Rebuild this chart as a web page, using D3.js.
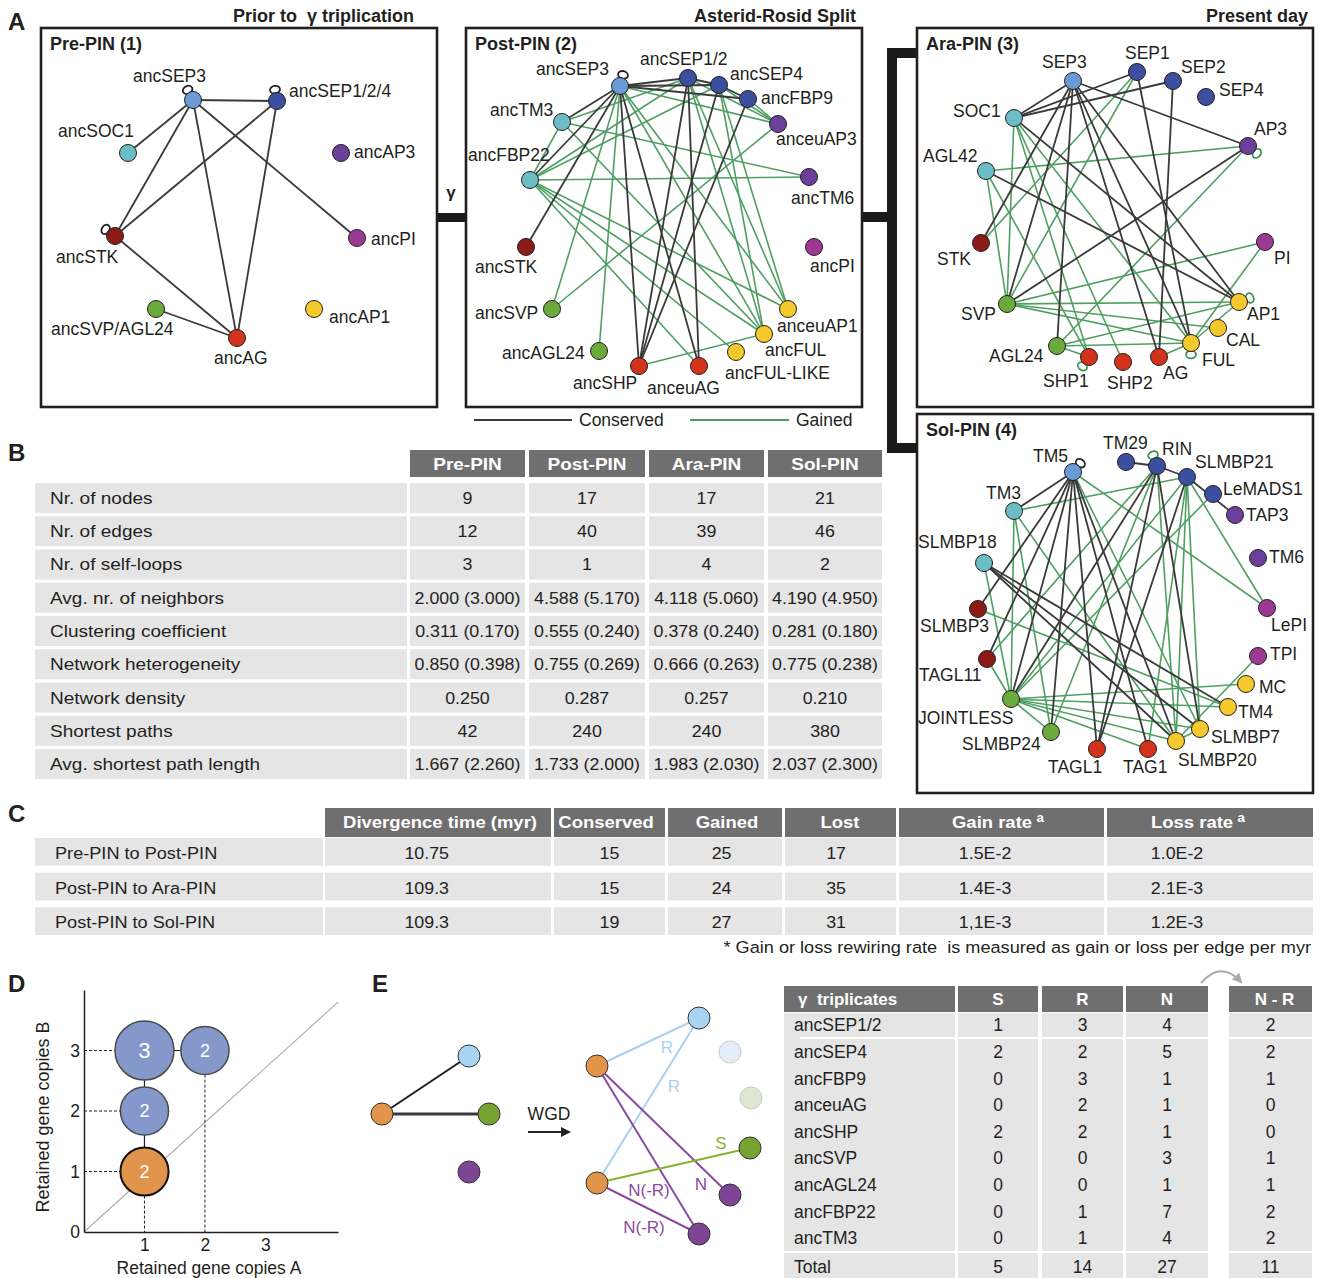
<!DOCTYPE html>
<html>
<head>
<meta charset="utf-8">
<script src="https://cdn.jsdelivr.net/npm/d3@7"></script>
<style>
  body { margin: 0; background: #fff; }
  svg { display: block; font-family: "Liberation Sans", Arial, Helvetica, sans-serif; }
</style>
</head>
<body>
<svg id="fig" width="1323" height="1278"></svg>
<script>
// ===================== DATA =====================

// --- Panel A: protein interaction networks (name, gene family) ---
const prePinNodes = [
  ['ancSEP3','sep3'], ['ancSEP1/2/4','sep'], ['ancSOC1','soc'], ['ancAP3','ap3'],
  ['ancSTK','stk'], ['ancPI','pi'], ['ancSVP/AGL24','svp'], ['ancAP1','ap1'], ['ancAG','ag']
];
const prePinEdges = [
  ['ancSEP3','ancSEP1/2/4','c'], ['ancSEP3','ancSOC1','c'], ['ancSEP3','ancSTK','c'],
  ['ancSEP3','ancAG','c'], ['ancSEP3','ancPI','c'], ['ancSEP1/2/4','ancSTK','c'],
  ['ancSEP1/2/4','ancAG','c'], ['ancSTK','ancAG','c'], ['ancSVP/AGL24','ancAG','c']
];
const prePinLoops = [['ancSEP3','c'], ['ancSEP1/2/4','c'], ['ancSTK','c']];

const postPinNodes = [
  ['ancSEP3','sep3'], ['ancSEP1/2','sep'], ['ancSEP4','sep'], ['ancFBP9','sep'],
  ['anceuAP3','ap3'], ['ancTM3','soc'], ['ancFBP22','soc'], ['ancTM6','ap3'],
  ['ancSTK','stk'], ['ancPI','pi'], ['ancSVP','svp'], ['anceuAP1','ap1'],
  ['ancFUL','ap1'], ['ancAGL24','svp'], ['ancFUL-LIKE','ap1'], ['ancSHP','ag'], ['anceuAG','ag']
];
const postPinEdges = [
  // conserved
  ['ancSEP3','ancSEP1/2','c'], ['ancSEP3','ancSEP4','c'], ['ancSEP3','ancFBP9','c'],
  ['ancSEP1/2','ancSEP4','c'], ['ancSEP4','ancFBP9','c'], ['ancSEP3','ancTM3','c'],
  ['ancSEP3','ancFBP22','c'], ['ancSEP3','ancSTK','c'], ['ancSEP3','ancSHP','c'],
  ['ancSEP3','anceuAG','c'], ['ancSEP1/2','ancSHP','c'], ['ancSEP1/2','anceuAG','c'],
  ['ancSEP4','ancSHP','c'], ['ancFBP9','ancSHP','c'],
  // gained
  ['ancSEP3','anceuAP3','g'], ['ancSEP3','ancSVP','g'], ['ancSEP3','ancAGL24','g'],
  ['ancSEP3','ancFUL','g'], ['ancSEP3','anceuAP1','g'], ['ancSEP1/2','ancTM3','g'],
  ['ancSEP1/2','ancFBP22','g'], ['ancSEP1/2','anceuAP3','g'], ['ancSEP1/2','ancFUL','g'],
  ['ancSEP1/2','anceuAP1','g'], ['ancSEP4','ancFBP22','g'], ['ancSEP4','anceuAP3','g'],
  ['ancSEP4','ancFUL','g'], ['ancSEP4','anceuAP1','g'], ['ancFBP9','anceuAP3','g'],
  ['ancTM3','ancTM6','g'], ['ancTM3','ancFUL','g'], ['ancFBP22','anceuAP1','g'],
  ['ancFBP22','ancFUL','g'], ['ancFBP22','ancFUL-LIKE','g'], ['ancFBP22','anceuAG','g'],
  ['anceuAP3','ancSVP','g'], ['ancSHP','ancFUL','g'], ['ancFBP22','ancTM3','g'],
  ['ancFBP22','ancTM6','g']
];
const postPinLoops = [['ancSEP3','c']];

const araPinNodes = [
  ['SEP3','sep3'], ['SEP1','sep'], ['SEP2','sep'], ['SEP4','sep'], ['SOC1','soc'],
  ['AP3','ap3'], ['AGL42','soc'], ['STK','stk'], ['PI','pi'], ['SVP','svp'],
  ['AP1','ap1'], ['CAL','ap1'], ['FUL','ap1'], ['AGL24','svp'], ['SHP1','ag'],
  ['SHP2','ag'], ['AG','ag']
];
const araPinEdges = [
  ['SEP3','SOC1','c'], ['SEP3','AP3','c'], ['SEP3','STK','c'], ['SEP3','SVP','c'],
  ['SEP3','AGL24','c'], ['SEP3','AG','c'], ['SEP3','FUL','c'], ['SEP3','AP1','c'],
  ['SEP1','SOC1','c'], ['SEP2','SOC1','c'], ['SEP1','FUL','c'], ['SEP2','AG','c'],
  ['SOC1','AP1','c'], ['AGL42','AP1','c'], ['SVP','AP3','c'],
  ['SEP1','SVP','g'], ['SEP1','STK','g'], ['AP3','AGL42','g'], ['AP3','AGL24','g'],
  ['SOC1','SVP','g'], ['SOC1','SHP1','g'], ['SOC1','SHP2','g'], ['SOC1','FUL','g'],
  ['AGL42','SVP','g'], ['AGL42','SHP1','g'], ['SVP','PI','g'], ['SVP','AP1','g'],
  ['SVP','FUL','g'], ['AGL24','AP1','g'], ['AGL24','FUL','g'], ['PI','FUL','g'],
  ['AGL24','SHP1','g'], ['AG','FUL','g'], ['FUL','AP1','g'], ['SVP','CAL','g']
];
const araPinLoops = [['AP3','g'], ['AP1','g'], ['FUL','g'], ['SHP1','g']];

const solPinNodes = [
  ['TM5','sep3'], ['TM29','sep'], ['RIN','sep'], ['SLMBP21','sep'], ['LeMADS1','sep'],
  ['TAP3','ap3'], ['TM3','soc'], ['TM6','ap3'], ['SLMBP18','soc'], ['SLMBP3','stk'],
  ['LePI','pi'], ['TAGL11','stk'], ['TPI','pi'], ['MC','ap1'], ['JOINTLESS','svp'],
  ['TM4','ap1'], ['SLMBP7','ap1'], ['SLMBP24','svp'], ['SLMBP20','ap1'], ['TAGL1','ag'], ['TAG1','ag']
];
const solPinEdges = [
  ['TM5','TM3','c'], ['TM5','SLMBP3','c'], ['TM5','TAGL11','c'], ['TM5','JOINTLESS','c'],
  ['TM5','SLMBP24','c'], ['TM5','TAGL1','c'], ['TM5','TAG1','c'], ['TM5','SLMBP20','c'],
  ['TM29','RIN','c'], ['RIN','SLMBP21','c'], ['SLMBP21','TAP3','c'], ['RIN','TAGL1','c'],
  ['RIN','SLMBP7','c'], ['RIN','JOINTLESS','c'], ['SLMBP21','TAGL1','c'],
  ['SLMBP18','TM4','c'], ['SLMBP18','SLMBP7','c'], ['SLMBP18','SLMBP20','c'],
  ['TM5','LePI','g'], ['TM5','SLMBP7','g'], ['TM3','SLMBP21','g'], ['TM3','JOINTLESS','g'],
  ['TM3','SLMBP24','g'], ['TM3','SLMBP20','g'], ['SLMBP18','JOINTLESS','g'], ['SLMBP3','TM4','g'],
  ['TAGL11','JOINTLESS','g'], ['RIN','TAGL11','g'], ['RIN','SLMBP24','g'], ['SLMBP21','JOINTLESS','g'],
  ['LeMADS1','JOINTLESS','g'], ['SLMBP21','LePI','g'], ['SLMBP21','SLMBP20','g'], ['RIN','SLMBP20','g'],
  ['JOINTLESS','MC','g'], ['JOINTLESS','TM4','g'], ['JOINTLESS','SLMBP7','g'], ['JOINTLESS','SLMBP20','g'],
  ['JOINTLESS','TAG1','g'], ['JOINTLESS','SLMBP24','g'], ['TPI','SLMBP20','g'], ['SLMBP7','SLMBP20','g'],
  ['SLMBP21','SLMBP7','g'], ['SLMBP21','TAG1','g']
];
const solPinLoops = [['TM5','c'], ['RIN','g']];

// --- Panel B: network statistics ---
const pinNames = ['Pre-PIN', 'Post-PIN', 'Ara-PIN', 'Sol-PIN'];
const statLabels = ['Nr. of nodes', 'Nr. of edges', 'Nr. of self-loops', 'Avg. nr. of neighbors',
  'Clustering coefficient', 'Network heterogeneity', 'Network density', 'Shortest paths',
  'Avg. shortest path length'];
const preStats  = ['9', '12', '3', '2.000 (3.000)', '0.311 (0.170)', '0.850 (0.398)', '0.250', '42', '1.667 (2.260)'];
const postStats = ['17', '40', '1', '4.588 (5.170)', '0.555 (0.240)', '0.755 (0.269)', '0.287', '240', '1.733 (2.000)'];
const araStats  = ['17', '39', '4', '4.118 (5.060)', '0.378 (0.240)', '0.666 (0.263)', '0.257', '240', '1.983 (2.030)'];
const solStats  = ['21', '46', '2', '4.190 (4.950)', '0.281 (0.180)', '0.775 (0.238)', '0.210', '380', '2.037 (2.300)'];

// --- Panel C: rewiring between networks ---
const rewiringHeaders = ['Divergence time (myr)', 'Conserved', 'Gained', 'Lost', 'Gain rate', 'Loss rate'];
const transitions = ['Pre-PIN to Post-PIN', 'Post-PIN to Ara-PIN', 'Post-PIN to Sol-PIN'];
const divergenceTime = ['10.75', '109.3', '109.3'];
const conservedEdges = [15, 15, 19];
const gainedEdges = [25, 24, 27];
const lostEdges = [17, 35, 31];
const gainRate = ['1.5E-2', '1.4E-3', '1,1E-3'];
const lossRate = ['1.0E-2', '2.1E-3', '1.2E-3'];

// --- Panel D: retained gene copies ---
const copyPoints = [
  { a: 1, b: 3, n: 3, anc: false },
  { a: 2, b: 3, n: 2, anc: false },
  { a: 1, b: 2, n: 2, anc: false },
  { a: 1, b: 1, n: 2, anc: true }
];
const copyTicksB = [0, 1, 2, 3];
const copyTicksA = [1, 2, 3];

// --- Panel E: interaction classes of gamma triplicates ---
const triplicateGenes = ['ancSEP1/2', 'ancSEP4', 'ancFBP9', 'anceuAG', 'ancSHP', 'ancSVP', 'ancAGL24', 'ancFBP22', 'ancTM3'];
const countS = [1, 2, 0, 0, 2, 0, 0, 0, 0];
const countR = [3, 2, 3, 2, 2, 0, 0, 1, 1];
const countN = [4, 5, 1, 1, 1, 3, 1, 7, 4];
const countNminusR = [2, 2, 1, 0, 0, 1, 1, 2, 2];

const wgdBeforeNodes = [['o', 'anc'], ['b', 'blue'], ['g', 'green'], ['p', 'purple']];
const wgdBeforeEdges = [['o', 'b', 2], ['o', 'g', 3]];
const wgdAfterNodes = [['o1', 'anc'], ['o2', 'anc'], ['b1', 'blue'], ['b2', 'fadedBlue'],
  ['g2', 'fadedGreen'], ['g1', 'green'], ['p1', 'purple'], ['p2', 'purple']];
const wgdAfterEdges = [['o1', 'b1', 'R'], ['o2', 'b1', 'R'], ['o1', 'p1', 'N'],
  ['o1', 'p2', 'N(-R)'], ['o2', 'p2', 'N(-R)'], ['o2', 'g1', 'S']];

// ===================== LAYOUT & STYLE =====================
const INK = '#231f20';
const famColor = {
  sep3: '#6a9bd6', sep: '#3c4e9f', soc: '#6dbdc6', stk: '#8b1b17', ag: '#d3321b',
  svp: '#6bab3e', ap1: '#f4c92d', ap3: '#6c3f9b', pi: '#9c3a93'
};
const edgeColor = { c: '#3a3a3a', g: '#4f9f62' };
const BOX_W = 396, BOX_H = 379, NODE_R = 8.5;

// node layout within a 396x379 panel: [x, y, label x, label baseline, loop angle]
const preLayout = {
  'ancSEP3': [152, 72, 92, 54, -118], 'ancSEP1/2/4': [236, 73, 248, 69, -100],
  'ancSOC1': [87, 125, 17, 109], 'ancAP3': [300, 125, 313, 130],
  'ancSTK': [74, 208, 15, 235, -145], 'ancPI': [316, 210, 330, 217],
  'ancSVP/AGL24': [115, 281, 10, 307], 'ancAP1': [273, 281, 288, 295],
  'ancAG': [196, 310, 173, 336]
};
const postLayout = {
  'ancSEP3': [154, 58, 70, 47, -75], 'ancSEP1/2': [222, 50, 174, 37], 'ancSEP4': [253, 57, 264, 52],
  'ancFBP9': [282, 71, 295, 76], 'anceuAP3': [312, 96, 310, 117], 'ancTM3': [96, 94, 24, 88],
  'ancFBP22': [64, 152, 2, 133], 'ancTM6': [343, 149, 325, 176], 'ancSTK': [60, 219, 9, 245],
  'ancPI': [348, 219, 344, 244], 'ancSVP': [86, 281, 9, 291], 'anceuAP1': [322, 281, 311, 304],
  'ancFUL': [298, 306, 299, 328], 'ancAGL24': [133, 323, 36, 331], 'ancFUL-LIKE': [270, 324, 259, 351],
  'ancSHP': [173, 338, 107, 361], 'anceuAG': [233, 338, 181, 366]
};
const araLayout = {
  'SEP3': [156, 53, 125, 40], 'SEP1': [220, 44, 208, 31], 'SEP2': [256, 53, 264, 45],
  'SEP4': [289, 69, 302, 68], 'SOC1': [97, 90, 36, 89], 'AP3': [331, 118, 337, 107, 40],
  'AGL42': [69, 143, 6, 134], 'STK': [64, 215, 20, 237], 'PI': [348, 214, 357, 236],
  'SVP': [90, 276, 44, 292], 'AP1': [322, 274, 330, 292, -20], 'CAL': [301, 300, 309, 318],
  'FUL': [274, 315, 285, 338, 90], 'AGL24': [140, 318, 72, 334], 'SHP1': [172, 329, 126, 359, 125],
  'SHP2': [206, 334, 190, 361], 'AG': [242, 329, 246, 351]
};
const solLayout = {
  'TM5': [156, 58, 116, 48, -50], 'TM29': [209, 48, 186, 35], 'RIN': [240, 52, 245, 41, -110],
  'SLMBP21': [270, 63, 278, 54], 'LeMADS1': [296, 80, 306, 81], 'TAP3': [318, 101, 329, 107],
  'TM3': [97, 97, 69, 85], 'TM6': [341, 144, 352, 149], 'SLMBP18': [67, 149, 1, 134],
  'SLMBP3': [61, 195, 3, 218], 'LePI': [350, 194, 354, 217], 'TAGL11': [70, 245, 2, 267],
  'TPI': [341, 242, 353, 246], 'MC': [329, 270, 342, 279], 'JOINTLESS': [94, 285, 1, 310],
  'TM4': [311, 293, 321, 304], 'SLMBP7': [283, 315, 294, 329], 'SLMBP24': [134, 318, 45, 336],
  'SLMBP20': [259, 327, 261, 352], 'TAGL1': [180, 335, 131, 359], 'TAG1': [231, 335, 206, 359]
};

const networks = [
  { title: 'Pre-PIN (1)', origin: [41, 28], nodes: prePinNodes, edges: prePinEdges, loops: prePinLoops, layout: preLayout },
  { title: 'Post-PIN (2)', origin: [466, 28], nodes: postPinNodes, edges: postPinEdges, loops: postPinLoops, layout: postLayout },
  { title: 'Ara-PIN (3)', origin: [917, 28], nodes: araPinNodes, edges: araPinEdges, loops: araPinLoops, layout: araLayout },
  { title: 'Sol-PIN (4)', origin: [917, 414], nodes: solPinNodes, edges: solPinEdges, loops: solPinLoops, layout: solLayout }
];

const svg = d3.select('#fig');
const defs = svg.append('defs');
function addMarker(id, color) {
  defs.append('marker').attr('id', id).attr('viewBox', '0 0 10 10')
    .attr('refX', 8).attr('refY', 5).attr('markerWidth', 5).attr('markerHeight', 5)
    .attr('orient', 'auto')
    .append('path').attr('d', 'M0,0L10,5L0,10Z').attr('fill', color);
}
addMarker('headInk', '#222');
addMarker('headGray', '#aaa');

// text helper: horizontally stretched text used in the statistics tables
function stext(g, x, y, str, o) {
  return g.append('text')
    .attr('transform', `translate(${x},${y}) scale(${o.sx || 1},1)`)
    .attr('text-anchor', o.anchor || 'start')
    .attr('font-size', o.size || 17)
    .attr('font-weight', o.weight || 'normal')
    .attr('fill', o.fill || INK)
    .text(str);
}
function panelLetter(x, y, ch) {
  svg.append('text').attr('x', x).attr('y', y).attr('font-size', 24).attr('font-weight', 'bold')
    .attr('fill', INK).text(ch);
}

// ===================== PANEL A =====================
panelLetter(8, 30, 'A');
[['Prior to\u00a0\u00a0\u03b3 triplication', 414], ['Asterid-Rosid Split', 856], ['Present day', 1308]].forEach(([t, x]) => {
  svg.append('text').attr('x', x).attr('y', 22).attr('text-anchor', 'end')
    .attr('font-size', 18).attr('font-weight', 'bold').attr('fill', INK).text(t);
});
svg.append('text').attr('x', 451).attr('y', 198).attr('text-anchor', 'middle')
  .attr('font-size', 17).attr('font-weight', 'bold').attr('fill', INK).text('\u03b3');

// lineage connectors between the networks
const bars = svg.append('g').attr('fill', '#1a1a1a');
[[437, 213, 29, 9], [862, 212, 30, 10], [887, 48, 10, 405], [887, 48, 30, 10], [887, 443, 30, 10]]
  .forEach(([x, y, w, h]) => bars.append('rect').attr('x', x).attr('y', y).attr('width', w).attr('height', h));

networks.forEach(net => {
  const sx = d3.scaleLinear().domain([0, BOX_W]).range([net.origin[0], net.origin[0] + BOX_W]);
  const sy = d3.scaleLinear().domain([0, BOX_H]).range([net.origin[1], net.origin[1] + BOX_H]);
  const g = svg.append('g');
  g.append('rect').attr('x', sx(0)).attr('y', sy(0)).attr('width', BOX_W).attr('height', BOX_H)
    .attr('fill', '#fff').attr('stroke', INK).attr('stroke-width', 2.6);
  g.append('text').attr('x', sx(9)).attr('y', sy(22)).attr('font-size', 18).attr('font-weight', 'bold')
    .attr('fill', INK).text(net.title);

  const pos = name => net.layout[name];
  const edgesSorted = net.edges.slice().sort((a, b) => (a[2] === 'g' ? -1 : 1) - (b[2] === 'g' ? -1 : 1));
  g.append('g').selectAll('line').data(edgesSorted).join('line')
    .attr('x1', d => sx(pos(d[0])[0])).attr('y1', d => sy(pos(d[0])[1]))
    .attr('x2', d => sx(pos(d[1])[0])).attr('y2', d => sy(pos(d[1])[1]))
    .attr('stroke', d => edgeColor[d[2]]).attr('stroke-width', d => d[2] === 'g' ? 1.6 : 1.8);

  // self-interactions
  g.append('g').selectAll('ellipse').data(net.loops).join('ellipse')
    .attr('transform', d => {
      const p = pos(d[0]), ang = p[4] * Math.PI / 180, dist = NODE_R + 3;
      return `translate(${sx(p[0]) + dist * Math.cos(ang)},${sy(p[1]) + dist * Math.sin(ang)}) rotate(${p[4] + 90})`;
    })
    .attr('rx', 5).attr('ry', 3.8).attr('fill', 'none')
    .attr('stroke', d => d[1] === 'g' ? '#3f9455' : '#222').attr('stroke-width', 1.8);

  g.append('g').selectAll('circle').data(net.nodes).join('circle')
    .attr('cx', d => sx(pos(d[0])[0])).attr('cy', d => sy(pos(d[0])[1])).attr('r', NODE_R)
    .attr('fill', d => famColor[d[1]]).attr('stroke', INK).attr('stroke-width', 1);

  g.append('g').selectAll('text').data(net.nodes).join('text')
    .attr('x', d => sx(pos(d[0])[2])).attr('y', d => sy(pos(d[0])[3]))
    .attr('font-size', 17.5).attr('fill', INK).text(d => d[0]);
});

// edge legend below the Post-PIN network
const legend = svg.append('g');
[['Conserved', 'c', 474, 572, 579], ['Gained', 'g', 690, 789, 796]].forEach(([t, k, x1, x2, tx]) => {
  legend.append('line').attr('x1', x1).attr('x2', x2).attr('y1', 420).attr('y2', 420)
    .attr('stroke', edgeColor[k]).attr('stroke-width', 2);
  legend.append('text').attr('x', tx).attr('y', 426).attr('font-size', 17.5).attr('fill', INK).text(t);
});

// ===================== PANEL B =====================
panelLetter(8, 461, 'B');
const TABLE_HEAD = '#6f6f70', TABLE_BODY = '#e6e5e6';
const bStats = [preStats, postStats, araStats, solStats];
const bCols = [[410, 525], [529, 645], [649, 764], [768, 882]];
const bLabelCol = [35, 407];
const bRows = d3.scaleBand().domain(statLabels).range([483, 779]).paddingInner(0.098);
const gB = svg.append('g');
bCols.forEach(([x0, x1], i) => {
  gB.append('rect').attr('x', x0).attr('y', 450).attr('width', x1 - x0).attr('height', 27).attr('fill', TABLE_HEAD);
  stext(gB, (x0 + x1) / 2, 470, pinNames[i], { anchor: 'middle', size: 16.5, weight: 'bold', fill: '#fff', sx: 1.15 });
});
statLabels.forEach((lab, r) => {
  const y = bRows(lab), h = bRows.bandwidth();
  gB.append('rect').attr('x', bLabelCol[0]).attr('y', y).attr('width', bLabelCol[1] - bLabelCol[0]).attr('height', h).attr('fill', TABLE_BODY);
  stext(gB, 50, y + h / 2 + 6, lab, { size: 17, sx: 1.12 });
  bCols.forEach(([x0, x1], i) => {
    gB.append('rect').attr('x', x0).attr('y', y).attr('width', x1 - x0).attr('height', h).attr('fill', TABLE_BODY);
    stext(gB, (x0 + x1) / 2, y + h / 2 + 6, bStats[i][r], { anchor: 'middle', size: 16.5, sx: 1.08 });
  });
});

// ===================== PANEL C =====================
panelLetter(8, 822, 'C');
const cCols = [[325, 551], [554, 665], [668, 782], [785, 896], [899, 1104], [1107, 1313]];
const cValueFrac = [0.45, 0.5, 0.47, 0.46, 0.42, 0.34];
const cHeadX = [440, 606, 727, 840, 998, 1198];
const cValues = [divergenceTime, conservedEdges, gainedEdges, lostEdges, gainRate, lossRate];
const cRows = d3.scaleBand().domain(transitions).range([838, 935]).paddingInner(0.2);
const gC = svg.append('g');
cCols.forEach(([x0, x1], i) => {
  gC.append('rect').attr('x', x0).attr('y', 808).attr('width', x1 - x0).attr('height', 29).attr('fill', TABLE_HEAD);
  const t = stext(gC, cHeadX[i], 828, rewiringHeaders[i], { anchor: 'middle', size: 16.5, weight: 'bold', fill: '#fff', sx: 1.12 });
  if (i >= 4) t.append('tspan').attr('dy', -6).attr('dx', 4).attr('font-size', 12).text('a');
});
transitions.forEach((lab, r) => {
  const y = cRows(lab), h = cRows.bandwidth();
  gC.append('rect').attr('x', 35).attr('y', y).attr('width', 288).attr('height', h).attr('fill', TABLE_BODY);
  stext(gC, 55, y + h / 2 + 7, lab, { size: 16.5, sx: 1.1 });
  cCols.forEach(([x0, x1], i) => {
    gC.append('rect').attr('x', x0).attr('y', y).attr('width', x1 - x0).attr('height', h).attr('fill', TABLE_BODY);
    stext(gC, x0 + (x1 - x0) * cValueFrac[i], y + h / 2 + 7, String(cValues[i][r]), { anchor: 'middle', size: 16.5, sx: 1.08 });
  });
});
stext(gC, 1311, 953, '* Gain or loss rewiring rate \u00a0is measured as gain or loss per edge per myr', { anchor: 'end', size: 16.5, sx: 1.1 });

// ===================== PANEL D =====================
panelLetter(8, 992, 'D');
const dX = d3.scaleLinear().domain([0, 4.2]).range([84, 338]);
const dY = d3.scaleLinear().domain([0, 4]).range([1232, 990]);
const dR = d3.scaleSqrt().domain([0, 3]).range([0, 29.5]);
const gD = svg.append('g');

gD.append('line').attr('x1', dX(0)).attr('y1', dY(0)).attr('x2', dX(4.2)).attr('y2', dY(3.8))
  .attr('stroke', '#aaa').attr('stroke-width', 1.1);

// dashed guides to the axes
copyPoints.filter(p => p.a === 1).forEach(p => {
  gD.append('line').attr('x1', dX(0)).attr('x2', dX(p.a) - dR(p.n)).attr('y1', dY(p.b)).attr('y2', dY(p.b))
    .attr('stroke', INK).attr('stroke-width', 1).attr('stroke-dasharray', '3,2');
});
d3.groups(copyPoints, p => p.a).forEach(([a, pts]) => {
  const low = d3.least(pts, p => p.b);
  gD.append('line').attr('x1', dX(a)).attr('x2', dX(a)).attr('y1', dY(low.b) + dR(low.n)).attr('y2', dY(0))
    .attr('stroke', INK).attr('stroke-width', 1).attr('stroke-dasharray', '3,2');
});
// links between neighbouring copy-number states
const byKey = new Map(copyPoints.map(p => [p.a + ',' + p.b, p]));
copyPoints.forEach(p => {
  [[p.a, p.b + 1], [p.a + 1, p.b]].forEach(([a, b]) => {
    if (byKey.has(a + ',' + b)) {
      gD.append('line').attr('x1', dX(p.a)).attr('y1', dY(p.b)).attr('x2', dX(a)).attr('y2', dY(b))
        .attr('stroke', INK).attr('stroke-width', 1.2);
    }
  });
});

const axisStyle = g => {
  g.select('.domain').attr('stroke', INK).attr('stroke-width', 1.5);
  g.selectAll('text').attr('font-size', 17.5).attr('fill', INK).attr('font-family', '"Liberation Sans", Arial, sans-serif');
};
gD.append('g').attr('transform', `translate(${dX(0)},0)`)
  .call(d3.axisLeft(dY).tickValues(copyTicksB).tickSize(0).tickSizeOuter(0).tickPadding(4).tickFormat(d3.format('d')))
  .call(axisStyle);
gD.append('g').attr('transform', `translate(0,${dY(0)})`)
  .call(d3.axisBottom(dX).tickValues(copyTicksA).tickSize(0).tickSizeOuter(0).tickPadding(7).tickFormat(d3.format('d')))
  .call(axisStyle);

const dots = gD.append('g').selectAll('g').data(copyPoints).join('g')
  .attr('transform', d => `translate(${dX(d.a)},${dY(d.b)})`);
dots.append('circle').attr('r', d => dR(d.n))
  .attr('fill', d => d.anc ? '#df934b' : '#8498cb')
  .attr('stroke', d => d.anc ? '#111' : '#4a4a4a').attr('stroke-width', d => d.anc ? 2 : 1.5);
dots.append('text').attr('text-anchor', 'middle').attr('dy', d => dR(d.n) * 0.25)
  .attr('font-size', d => dR(d.n) * 0.75).attr('fill', '#fff').text(d => d.n);

gD.append('text').attr('transform', 'translate(49,1117) rotate(-90)').attr('text-anchor', 'middle')
  .attr('font-size', 18).attr('fill', INK).text('Retained gene copies B');
gD.append('text').attr('x', 209).attr('y', 1274).attr('text-anchor', 'middle')
  .attr('font-size', 17.5).attr('fill', INK).text('Retained gene copies A');

// ===================== PANEL E =====================
panelLetter(372, 992, 'E');
const wgdColor = {
  anc: ['#e0954b', '#333'], blue: ['#a9d4f1', '#333'], green: ['#76a232', '#333'],
  purple: ['#7d4594', '#333'], fadedBlue: ['#e4edf8', '#c9c9c9'], fadedGreen: ['#dfe6d2', '#c9c9c9']
};
const classColor = { R: '#a9d1ef', S: '#86b234', N: '#8a4aa0', 'N(-R)': '#8a4aa0' };
const wgdBeforePos = { o: [382, 1114], b: [469, 1056], g: [489, 1114], p: [469, 1172] };
const wgdAfterPos = {
  o1: [597, 1066], o2: [597, 1183], b1: [699, 1018], b2: [730, 1052],
  g2: [751, 1098], g1: [750, 1148], p1: [730, 1195], p2: [699, 1234]
};
const edgeLabelPos = [[667, 1047], [674, 1086], [701, 1184], [649, 1190], [644, 1227], [721, 1143]];
const gE = svg.append('g');
wgdBeforeEdges.forEach(([a, b, w]) => {
  gE.append('line').attr('x1', wgdBeforePos[a][0]).attr('y1', wgdBeforePos[a][1])
    .attr('x2', wgdBeforePos[b][0]).attr('y2', wgdBeforePos[b][1])
    .attr('stroke', w > 2 ? '#3a3a3a' : '#1e1e1e').attr('stroke-width', w);
});
wgdBeforeNodes.forEach(([id, k]) => {
  gE.append('circle').attr('cx', wgdBeforePos[id][0]).attr('cy', wgdBeforePos[id][1]).attr('r', 11)
    .attr('fill', wgdColor[k][0]).attr('stroke', wgdColor[k][1]).attr('stroke-width', 1);
});
gE.append('text').attr('x', 549).attr('y', 1120).attr('text-anchor', 'middle').attr('font-size', 17.5)
  .attr('fill', INK).text('WGD');
gE.append('line').attr('x1', 528).attr('x2', 569).attr('y1', 1132).attr('y2', 1132)
  .attr('stroke', '#222').attr('stroke-width', 2).attr('marker-end', 'url(#headInk)');
wgdAfterEdges.forEach(([a, b, cls]) => {
  gE.append('line').attr('x1', wgdAfterPos[a][0]).attr('y1', wgdAfterPos[a][1])
    .attr('x2', wgdAfterPos[b][0]).attr('y2', wgdAfterPos[b][1])
    .attr('stroke', cls === 'R' ? '#a9d1ef' : cls === 'S' ? '#86b234' : '#8a4aa0').attr('stroke-width', 2);
});
wgdAfterEdges.forEach(([, , cls], i) => {
  gE.append('text').attr('x', edgeLabelPos[i][0]).attr('y', edgeLabelPos[i][1] + 6).attr('text-anchor', 'middle')
    .attr('font-size', 17).attr('fill', classColor[cls]).text(cls);
});
wgdAfterNodes.forEach(([id, k]) => {
  gE.append('circle').attr('cx', wgdAfterPos[id][0]).attr('cy', wgdAfterPos[id][1]).attr('r', 11)
    .attr('fill', wgdColor[k][0]).attr('stroke', wgdColor[k][1]).attr('stroke-width', 1);
});

// triplicate table
const eCols = [[784, 955], [958, 1038], [1042, 1123], [1126, 1208], [1229, 1312]];
const eHead = ['\u03b3\u00a0\u00a0triplicates', 'S', 'R', 'N', 'N - R'];
const eRowsData = triplicateGenes.map((g, i) => [g, countS[i], countR[i], countN[i], countNminusR[i]]);
eRowsData.push(['Total', d3.sum(countS), d3.sum(countR), d3.sum(countN), d3.sum(countNminusR)]);
const eRows = d3.scaleBand().domain(eRowsData.map(r => r[0])).range([1012, 1278]);
eCols.forEach(([x0, x1], i) => {
  gE.append('rect').attr('x', x0).attr('y', 986).attr('width', x1 - x0).attr('height', 26).attr('fill', TABLE_HEAD);
  gE.append('rect').attr('x', x0).attr('y', 1013).attr('width', x1 - x0).attr('height', 265).attr('fill', TABLE_BODY);
  gE.append('text').attr('x', i === 0 ? 798 : (x0 + x1) / 2 + (i === 4 ? 4 : 0)).attr('y', 1005)
    .attr('text-anchor', i === 0 ? 'start' : 'middle').attr('font-size', 17).attr('font-weight', 'bold')
    .attr('fill', '#fff').text(eHead[i]);
});
// separators within the table body
gE.append('line').attr('x1', 800).attr('x2', 1208).attr('y1', 1038).attr('y2', 1038).attr('stroke', '#fff').attr('stroke-width', 2);
gE.append('line').attr('x1', 1229).attr('x2', 1312).attr('y1', 1038).attr('y2', 1038).attr('stroke', '#fff').attr('stroke-width', 2);
gE.append('line').attr('x1', 784).attr('x2', 1208).attr('y1', 1252).attr('y2', 1252).attr('stroke', '#fff').attr('stroke-width', 2);
gE.append('line').attr('x1', 1229).attr('x2', 1312).attr('y1', 1252).attr('y2', 1252).attr('stroke', '#fff').attr('stroke-width', 2);
eRowsData.forEach(row => {
  const y = eRows(row[0]) + eRows.bandwidth() / 2 + 6 + (row[0] === 'Total' ? 2 : 0);
  row.forEach((v, i) => {
    const [x0, x1] = eCols[i];
    gE.append('text').attr('x', i === 0 ? 794 : (x0 + x1) / 2).attr('y', y)
      .attr('text-anchor', i === 0 ? 'start' : 'middle').attr('font-size', 17.5).attr('fill', INK).text(v);
  });
});
gE.append('path').attr('d', 'M1201,983 Q1221,960 1241,982').attr('fill', 'none')
  .attr('stroke', '#aaa').attr('stroke-width', 2).attr('marker-end', 'url(#headGray)');
</script>
</body>
</html>
